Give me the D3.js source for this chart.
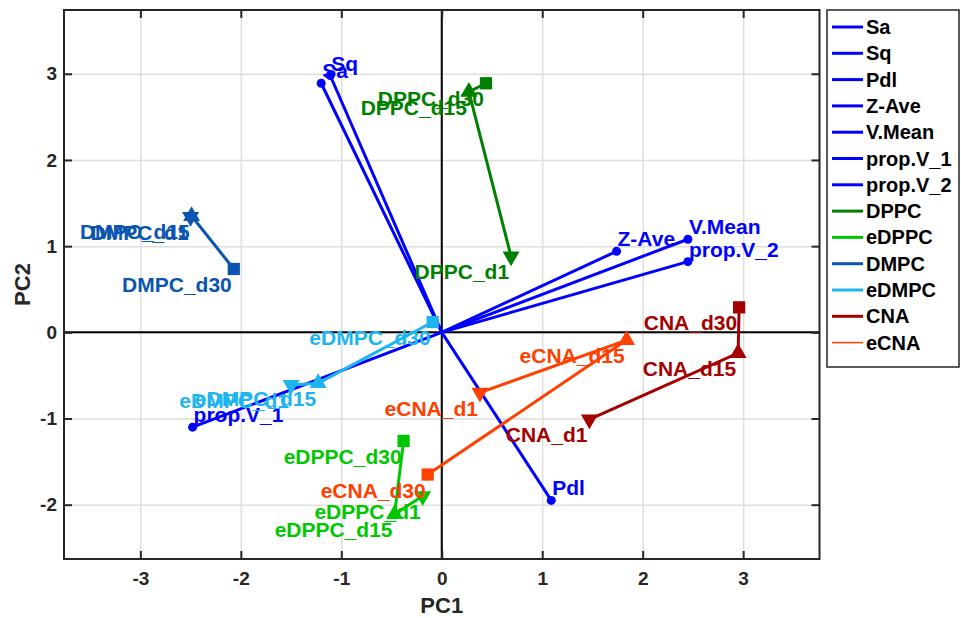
<!DOCTYPE html>
<html>
<head>
<meta charset="utf-8">
<script src="https://cdn.jsdelivr.net/npm/d3@7"></script>
<style>
body { margin: 0; background: #fff; }
text { font-family: "Liberation Sans", Arial, sans-serif; font-weight: bold; }
</style>
</head>
<body>
<div id="chart"></div>
<script>
var width = 961
var height = 618

// loadings (blue arrows from origin)
var varNames = ["Sa", "Sq", "Pdl", "Z-Ave", "V.Mean", "prop.V_1", "prop.V_2"]
var varPC1 = [-1.20, -1.11, 1.09, 1.74, 2.45, -2.48, 2.45]
var varPC2 = [2.89, 2.98, -1.95, 0.94, 1.08, -1.10, 0.82]

// samples, days d1 / d15 / d30
var groups = ["DPPC", "eDPPC", "DMPC", "eDMPC", "CNA", "eCNA"]
var days = ["d1", "d15", "d30"]
var groupColors = ["#008000", "#00c800", "#0a55b0", "#1eb4f0", "#a50000", "#ff4000"]
var samplePC1 = [
  [0.69, 0.27, 0.44],
  [-0.19, -0.47, -0.38],
  [-2.50, -2.49, -2.07],
  [-1.50, -1.23, -0.09],
  [1.47, 2.95, 2.96],
  [0.38, 1.84, -0.14]
]
var samplePC2 = [
  [0.88, 2.79, 2.89],
  [-1.90, -2.11, -1.26],
  [1.34, 1.35, 0.735],
  [-0.61, -0.59, 0.12],
  [-1.01, -0.24, 0.29],
  [-0.70, -0.09, -1.65]
]

var xTicks = [-3, -2, -1, 0, 1, 2, 3]
var yTicks = [-2, -1, 0, 1, 2, 3]

var pLeft = 64, pRight = 819.5, pTop = 10, pBottom = 559

var x = d3.scaleLinear().domain([-3.76, 3.76]).range([pLeft, pRight])
var y = d3.scaleLinear().domain([-2.63, 3.74]).range([pBottom, pTop])
var fmt = function(d) { return String(d) }

var svg = d3.select("#chart").append("svg")
  .attr("width", width).attr("height", height)

// grid
svg.append("g")
  .attr("transform", "translate(0," + pBottom + ")")
  .call(d3.axisBottom(x).tickValues(xTicks).tickSize(-(pBottom - pTop)).tickFormat(""))
  .call(function(g) { g.select(".domain").remove() })
  .selectAll("line").attr("stroke", "#dedede").attr("stroke-width", 1.5)
svg.append("g")
  .attr("transform", "translate(" + pLeft + ",0)")
  .call(d3.axisLeft(y).tickValues(yTicks).tickSize(-(pRight - pLeft)).tickFormat(""))
  .call(function(g) { g.select(".domain").remove() })
  .selectAll("line").attr("stroke", "#dedede").attr("stroke-width", 1.5)

// zero lines
svg.append("line")
  .attr("x1", x(0)).attr("x2", x(0)).attr("y1", pTop).attr("y2", pBottom)
  .attr("stroke", "#000").attr("stroke-width", 2)
svg.append("line")
  .attr("x1", pLeft).attr("x2", pRight).attr("y1", y(0)).attr("y2", y(0))
  .attr("stroke", "#000").attr("stroke-width", 2)

// axes with inward ticks
function styleAxis(g) {
  g.select(".domain").remove()
  g.selectAll("line").attr("stroke", "#262626").attr("stroke-width", 2)
  g.selectAll("text").attr("fill", "#262626").style("font-size", "19px")
}
svg.append("g")
  .attr("transform", "translate(0," + pBottom + ")")
  .call(d3.axisBottom(x).tickValues(xTicks).tickSize(-8).tickPadding(13).tickFormat(fmt))
  .call(styleAxis)
svg.append("g")
  .attr("transform", "translate(" + pLeft + ",0)")
  .call(d3.axisLeft(y).tickValues(yTicks).tickSize(-8).tickPadding(7).tickFormat(fmt))
  .call(styleAxis)
svg.append("g")
  .attr("transform", "translate(0," + pTop + ")")
  .call(d3.axisTop(x).tickValues(xTicks).tickSize(-8).tickFormat(""))
  .call(styleAxis)
svg.append("g")
  .attr("transform", "translate(" + pRight + ",0)")
  .call(d3.axisRight(y).tickValues(yTicks).tickSize(-8).tickFormat(""))
  .call(styleAxis)

svg.append("rect")
  .attr("x", pLeft).attr("y", pTop).attr("width", pRight - pLeft).attr("height", pBottom - pTop)
  .attr("fill", "none").attr("stroke", "#262626").attr("stroke-width", 2)

svg.append("text")
  .attr("x", x(0)).attr("y", 613)
  .attr("text-anchor", "middle").attr("fill", "#262626")
  .style("font-size", "22px").text("PC1")
svg.append("text")
  .attr("transform", "translate(30," + ((pTop + pBottom) / 2) + ") rotate(-90)")
  .attr("text-anchor", "middle").attr("fill", "#262626")
  .style("font-size", "22px").text("PC2")

// loadings
var loadings = varNames.map(function(n, i) { return {name: n, pc1: varPC1[i], pc2: varPC2[i]} })
svg.selectAll(".load")
  .data(loadings).enter()
  .append("line")
  .attr("x1", x(0)).attr("y1", y(0))
  .attr("x2", function(d) { return x(d.pc1) })
  .attr("y2", function(d) { return y(d.pc2) })
  .attr("stroke", "#0000ff").attr("stroke-width", 3)
svg.selectAll(".loadpt")
  .data(loadings).enter()
  .append("circle")
  .attr("cx", function(d) { return x(d.pc1) })
  .attr("cy", function(d) { return y(d.pc2) })
  .attr("r", 4.5).attr("fill", "#0000ff")

// samples
var line = d3.line().x(function(d) { return x(d.pc1) }).y(function(d) { return y(d.pc2) })
var samples = groups.map(function(g, i) {
  return days.map(function(day, j) {
    return {group: g, day: day, j: j, color: groupColors[i], pc1: samplePC1[i][j], pc2: samplePC2[i][j]}
  })
})
samples.forEach(function(pts) {
  svg.append("path").datum(pts)
    .attr("d", line).attr("fill", "none")
    .attr("stroke", pts[0].color).attr("stroke-width", 3)
  svg.selectAll(null).data(pts).enter()
    .append("path")
    .attr("d", function(d) {
      return d.j == 2 ? d3.symbol(d3.symbolSquare, 150)() : d3.symbol(d3.symbolTriangle, 125)()
    })
    .attr("transform", function(d) {
      return "translate(" + x(d.pc1) + "," + y(d.pc2) + ")" + (d.j == 0 ? " rotate(180)" : "")
    })
    .attr("fill", pts[0].color)
})

// labels
svg.selectAll(".loadlab")
  .data(loadings).enter()
  .append("text")
  .attr("x", function(d) { return x(d.pc1) + 1 })
  .attr("y", function(d) { return y(d.pc2) - 5 })
  .attr("fill", "#0000ff").style("font-size", "21px")
  .text(function(d) { return d.name })
samples.forEach(function(pts) {
  svg.selectAll(null).data(pts).enter()
    .append("text")
    .attr("x", function(d) { return x(d.pc1) - 2 })
    .attr("y", function(d) { return y(d.pc2) + 23 })
    .attr("text-anchor", "end")
    .attr("fill", function(d) { return d.color })
    .style("font-size", "21px")
    .text(function(d) { return d.group + "_" + d.day })
})

// legend
var legNames = varNames.concat(groups)
var legColors = varNames.map(function() { return "#0000ff" }).concat(groupColors)
var legend = svg.append("g")
legend.append("rect")
  .attr("x", 827).attr("y", 10).attr("width", 132).attr("height", 357)
  .attr("fill", "#fff").attr("stroke", "#262626").attr("stroke-width", 1.5)
legNames.forEach(function(n, i) {
  var ly = 27 + i * 26.3
  legend.append("line")
    .attr("x1", 832).attr("x2", 863).attr("y1", ly).attr("y2", ly)
    .attr("stroke", legColors[i]).attr("stroke-width", n == "eCNA" ? 1.5 : 3)
  legend.append("text")
    .attr("x", 866).attr("y", ly + 7)
    .attr("fill", "#000").style("font-size", "20px")
    .text(n)
})
</script>
</body>
</html>
